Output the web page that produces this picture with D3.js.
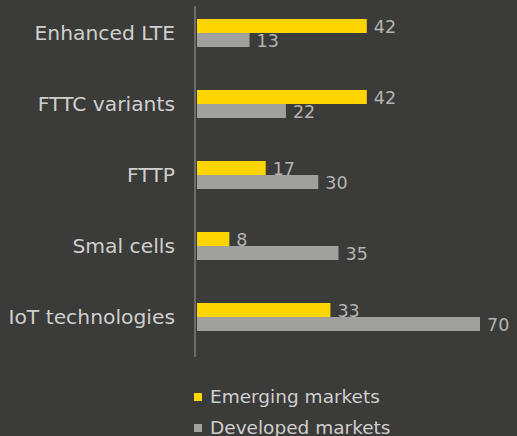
<!DOCTYPE html>
<html>
<head>
<meta charset="utf-8">
<script src="https://cdn.jsdelivr.net/npm/d3@7"></script>
<style>
  html, body { margin: 0; padding: 0; background: #3b3b3a; }
  svg { display: block; }
</style>
</head>
<body>
<div id="chart"></div>
<script>
// данные графика
const categories = ["Enhanced LTE", "FTTC variants", "FTTP", "Smal cells", "IoT technologies"];
const emerging = [42, 42, 17, 8, 33];
const developed = [13, 22, 30, 35, 70];
const seriesNames = ["Emerging markets", "Developed markets"];
const seriesColors = ["#ffd500", "#a0a09e"];

const width = 517, height = 436;
const svg = d3.select("#chart").append("svg")
    .attr("width", width)
    .attr("height", height)
    .style("font-family", "'DejaVu Sans', sans-serif");

svg.append("rect").attr("width", width).attr("height", height).attr("fill", "#3b3b3a");

const x0 = 197;
const x = d3.scaleLinear().domain([0, 70]).range([x0, 480]);

const y = d3.scaleBand().domain(categories).range([-2.5, 352.5]);
const inner = d3.scaleBand().domain([0, 1]).range([0, 28]);

const groups = svg.append("g").selectAll("g")
    .data(categories)
    .enter().append("g")
    .attr("transform", d => `translate(0,${y(d) + y.bandwidth() / 2 - 14})`);

// подписи категорий
groups.append("text")
    .attr("x", 175)
    .attr("y", 14)
    .attr("dy", "0.35em")
    .attr("text-anchor", "end")
    .attr("font-size", "20.3px")
    .attr("fill", "#cfcfcd")
    .text(d => d);

[emerging, developed].forEach((vals, s) => {
    groups.append("rect")
        .attr("x", x0)
        .attr("y", inner(s))
        .attr("width", (d, i) => x(vals[i]) - x0)
        .attr("height", inner.bandwidth())
        .attr("fill", seriesColors[s]);

    groups.append("text")
        .attr("x", (d, i) => x(vals[i]) + 7)
        .attr("y", inner(s) + inner.bandwidth() - 0.5)
        .attr("font-size", "17.5px")
        .attr("fill", "#b4b4b2")
        .text((d, i) => vals[i]);
});

// вертикальная ось
svg.append("line")
    .attr("x1", 195).attr("x2", 195)
    .attr("y1", 6).attr("y2", 357)
    .attr("stroke", "#6c6c6a")
    .attr("stroke-width", 2);

// легенда
const legend = svg.append("g").selectAll("g")
    .data(seriesNames)
    .enter().append("g")
    .attr("transform", (d, i) => `translate(194,${393 + i * 31})`);

legend.append("rect")
    .attr("width", 8).attr("height", 8)
    .attr("fill", (d, i) => seriesColors[i]);

legend.append("text")
    .attr("x", 16)
    .attr("y", 10)
    .attr("font-size", "18.5px")
    .attr("fill", "#cfcfcd")
    .text(d => d);
</script>
</body>
</html>
